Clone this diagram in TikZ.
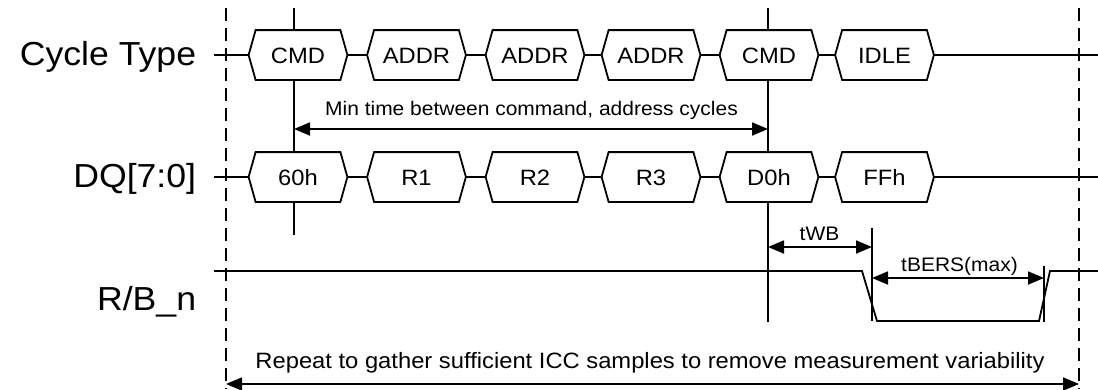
\documentclass[tikz,border=0pt]{standalone}
\usepackage{fontspec}
\setmainfont{Liberation Sans}[FakeStretch=1.07]
\usetikzlibrary{arrows.meta}
\begin{document}
\begin{tikzpicture}[x=1pt,y=-1pt,line width=1.8pt,
  lbl/.style={font=\fontsize{33.3}{38}\selectfont, anchor=base east, inner sep=0pt},
  hexbox/.style={fill=white, inner sep=0pt, minimum height=48pt, minimum width=97pt,
                 text height=16pt, text depth=0pt, font=\fontsize{22.2}{26}\selectfont},
  note/.style={font=\fontsize{19.6}{23}\selectfont, inner sep=0pt, anchor=base},
  bignote/.style={font=\fontsize{22.2}{26}\selectfont, inner sep=0pt, anchor=base},
  dimline/.style={{Triangle[length=16pt,width=13pt]}-{Triangle[length=16pt,width=13pt]}},
  guide/.style={dash pattern=on 13pt off 7pt}]
\useasboundingbox (0,0) rectangle (1098,389);

% dashed guides
\coordinate (gl1) at (226,8);  \coordinate (gl2) at (226,389);
\coordinate (gr1) at (1079,8); \coordinate (gr2) at (1079,389);
\draw[guide] (gl1) -- (gl2);
\draw[guide] (gr1) -- (gr2);

% vertical markers
\coordinate (v1t) at (294,8);   \coordinate (v1b) at (294,235);
\coordinate (v2t) at (768,8);   \coordinate (v2b) at (768,322);
\coordinate (v3t) at (872,228); \coordinate (v3b) at (872,321);
\coordinate (v4t) at (1044,266); \coordinate (v4b) at (1044,322);
\draw (v1t) -- (v1b);
\draw (v2t) -- (v2b);
\draw (v3t) -- (v3b);
\draw (v4t) -- (v4b);

% labels
\node[lbl] (lct) at (197,65.5) {Cycle Type};
\node[lbl] (ldq) at (197,187) {DQ[7:0]};
\node[lbl] (lrb) at (197,310) {R/B\_n};

% row 1
\node[hexbox] (c1) at (298,55) {CMD};
\node[hexbox] (c2) at (416.5,55) {ADDR};
\node[hexbox] (c3) at (535,55) {ADDR};
\node[hexbox] (c4) at (651,55) {ADDR};
\node[hexbox] (c5) at (769,55) {CMD};
\node[hexbox] (c6) at (884.5,55) {IDLE};
% row 2
\node[hexbox] (d1) at (298,177) {60h};
\node[hexbox] (d2) at (416.5,177) {R1};
\node[hexbox] (d3) at (535,177) {R2};
\node[hexbox] (d4) at (651,177) {R3};
\node[hexbox] (d5) at (769,177) {D0h};
\node[hexbox] (d6) at (884.5,177) {FFh};

\foreach \n in {c1,c2,c3,c4,c5,c6,d1,d2,d3,d4,d5,d6}
  \draw[line join=miter] (\n.west) -- ([xshift=7pt]\n.north west) -- ([xshift=-7pt]\n.north east)
        -- (\n.east) -- ([xshift=-7pt]\n.south east) -- ([xshift=7pt]\n.south west) -- cycle;

% bus connectors
\coordinate (cs) at (214,55);  \coordinate (ce) at (1098,55);
\coordinate (ds) at (214,177); \coordinate (de) at (1098,177);
\draw (cs) -- (c1.west);
\draw (c1.east) -- (c2.west);
\draw (c2.east) -- (c3.west);
\draw (c3.east) -- (c4.west);
\draw (c4.east) -- (c5.west);
\draw (c5.east) -- (c6.west);
\draw (c6.east) -- (ce);
\draw (ds) -- (d1.west);
\draw (d1.east) -- (d2.west);
\draw (d2.east) -- (d3.west);
\draw (d3.east) -- (d4.west);
\draw (d4.east) -- (d5.west);
\draw (d5.east) -- (d6.west);
\draw (d6.east) -- (de);

% R/B_n waveform
\coordinate (rs) at (214,271);
\coordinate (rf1) at (862,271);
\coordinate (rf2) at (877,321);
\coordinate (rr1) at (1039,321);
\coordinate (rr2) at (1050,271);
\coordinate (re) at (1098,271);
\draw[line join=miter] (rs) -- (rf1) -- (rf2) -- (rr1) -- (rr2) -- (re);

% dimension arrows
\coordinate (m1) at (294,129); \coordinate (m2) at (768,129);
\draw[dimline] (m1) -- (m2);
\node[note] (tmin) at (531.5,115) {Min time between command, address cycles};

\coordinate (w1) at (768,247); \coordinate (w2) at (872,247);
\draw[dimline] (w1) -- (w2);
\node[note] (twb) at (819.5,240) {tWB};

\coordinate (b1) at (872,278); \coordinate (b2) at (1044,278);
\draw[dimline] (b1) -- (b2);
\node[note] (tbers) at (959.5,271) {tBERS(max)};

\coordinate (p1) at (226,384); \coordinate (p2) at (1079,384);
\draw[dimline] (p1) -- (p2);
\node[bignote] (trep) at (650,368) {Repeat to gather sufficient ICC samples to remove measurement variability};
\end{tikzpicture}
\end{document}
